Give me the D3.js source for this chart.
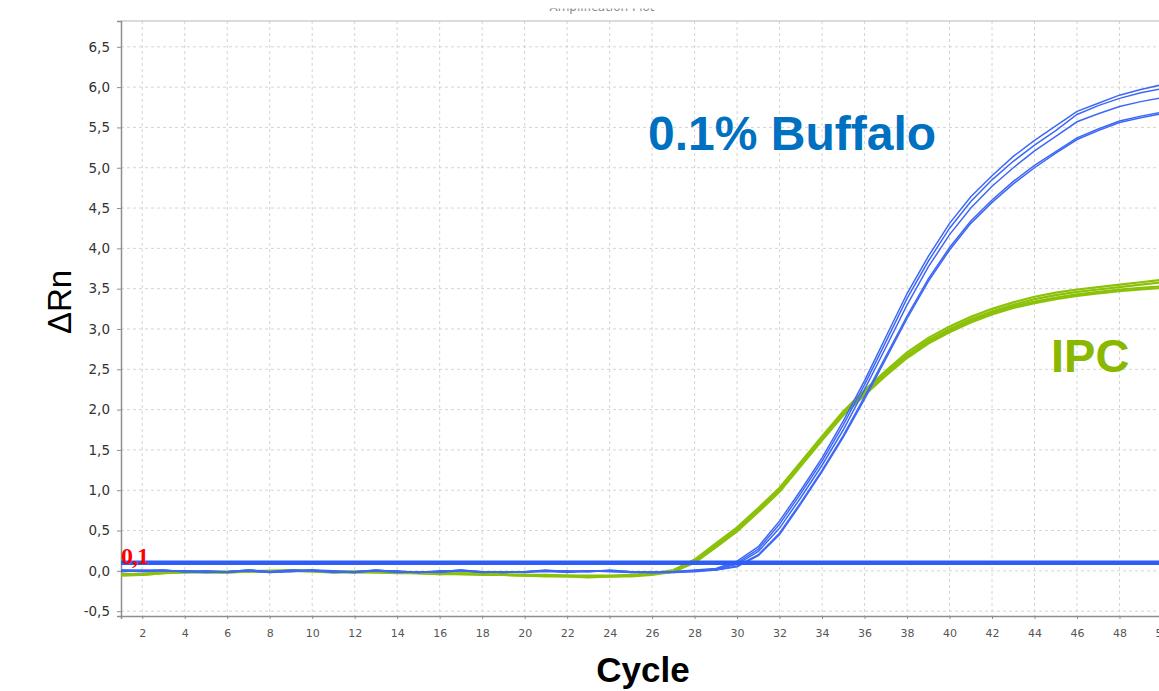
<!DOCTYPE html>
<html>
<head>
<meta charset="utf-8">
<script src="https://cdn.jsdelivr.net/npm/d3@7"></script>
<style>
  body { margin: 0; background: #fff; }
  #chart svg { display: block; }
</style>
</head>
<body>
<div id="chart"></div>
<script>
const cycles = [1,2,3,4,5,6,7,8,9,10,11,12,13,14,15,16,17,18,19,20,21,22,23,24,25,
  26,27,28,29,30,31,32,33,34,35,36,37,38,39,40,41,42,43,44,45,46,47,48,49,50];

const xTicks = [2,4,6,8,10,12,14,16,18,20,22,24,26,28,30,32,34,36,38,40,42,44,46,48,50];
const yTicks = [-0.5,0,0.5,1,1.5,2,2.5,3,3.5,4,4.5,5,5.5,6,6.5];

const threshold = 0.1;

// 0.1% Buffalo replicates
const buffalo1 = [0.01,0.00,0.01,-0.01,-0.01,-0.01,0.00,-0.02,0.00,0.01,-0.01,-0.02,0.01,-0.01,-0.02,-0.01,0.01,-0.02,-0.01,-0.01,
  0.00,-0.01,0.00,0.00,-0.02,-0.02,-0.01,0.01,0.03,
  0.12,0.30,0.62,1.00,1.40,1.86,2.36,2.90,3.44,3.90,4.31,4.64,4.90,5.14,5.34,5.52,5.70,5.80,5.90,5.97,6.03];
const buffalo2 = [0.00,0.01,0.00,-0.01,-0.02,-0.01,0.01,-0.01,0.00,0.00,-0.02,-0.01,0.00,-0.01,-0.01,-0.02,0.00,-0.01,-0.02,-0.01,
  0.01,-0.01,-0.01,0.00,-0.01,-0.02,-0.01,0.00,0.02,
  0.10,0.27,0.58,0.96,1.36,1.81,2.31,2.84,3.38,3.84,4.25,4.58,4.85,5.08,5.28,5.46,5.66,5.77,5.86,5.93,5.98];
const buffalo3 = [0.01,0.00,0.00,0.00,-0.01,-0.02,0.00,-0.01,0.01,0.00,-0.01,-0.02,0.00,0.00,-0.02,-0.01,0.01,-0.01,-0.01,-0.02,
  0.00,0.00,-0.01,0.01,-0.01,-0.02,-0.02,0.00,0.02,
  0.08,0.24,0.53,0.91,1.31,1.75,2.25,2.77,3.30,3.77,4.17,4.50,4.77,5.00,5.21,5.39,5.57,5.67,5.76,5.82,5.87];
const buffalo4 = [-0.01,0.00,0.01,-0.01,0.00,-0.01,0.00,-0.02,-0.01,0.01,0.00,-0.01,0.00,-0.02,-0.01,-0.01,0.00,-0.02,-0.01,-0.01,
  0.00,-0.02,0.00,-0.01,-0.02,-0.01,-0.01,0.00,0.01,
  0.06,0.20,0.47,0.85,1.25,1.68,2.16,2.66,3.16,3.62,4.01,4.34,4.60,4.83,5.03,5.20,5.37,5.48,5.58,5.64,5.69];
const buffalo5 = [0.00,-0.01,0.00,0.00,-0.01,-0.01,0.01,-0.01,0.00,0.00,-0.01,-0.01,0.01,-0.01,-0.02,0.00,0.00,-0.01,-0.02,-0.01,
  -0.01,-0.01,0.00,0.00,-0.01,-0.02,-0.02,-0.01,0.01,
  0.05,0.19,0.45,0.83,1.23,1.66,2.13,2.63,3.13,3.59,3.98,4.31,4.57,4.80,5.00,5.18,5.35,5.46,5.56,5.62,5.67];

// IPC replicates
const ipc1 = [-0.04,-0.04,-0.02,-0.01,-0.01,-0.02,0.00,0.00,0.00,0.00,-0.01,-0.01,-0.01,-0.02,-0.02,-0.03,-0.03,-0.03,-0.04,-0.05,
  -0.05,-0.06,-0.06,-0.06,-0.05,-0.03,0.01,
  0.14,0.34,0.54,0.78,1.03,1.35,1.67,1.98,2.24,2.48,2.71,2.89,3.03,3.15,3.25,3.33,3.40,3.45,3.49,3.52,3.55,3.58,3.61];
const ipc2 = [-0.05,-0.05,-0.03,-0.01,-0.02,-0.02,-0.01,0.00,0.01,0.00,-0.01,-0.02,-0.01,-0.02,-0.03,-0.03,-0.04,-0.04,-0.05,-0.05,
  -0.06,-0.06,-0.07,-0.07,-0.06,-0.04,0.00,
  0.12,0.32,0.52,0.76,1.01,1.33,1.65,1.96,2.22,2.46,2.68,2.86,3.00,3.12,3.22,3.30,3.37,3.42,3.46,3.49,3.52,3.55,3.58];
const ipc3 = [-0.05,-0.04,-0.02,-0.02,-0.01,-0.01,0.00,-0.01,0.00,0.00,-0.02,-0.01,-0.02,-0.02,-0.03,-0.04,-0.03,-0.04,-0.05,-0.06,
  -0.06,-0.07,-0.07,-0.07,-0.06,-0.04,-0.01,
  0.11,0.30,0.50,0.74,0.99,1.31,1.63,1.94,2.20,2.44,2.66,2.84,2.98,3.10,3.20,3.28,3.34,3.39,3.43,3.46,3.49,3.51,3.53];
const ipc4 = [-0.06,-0.05,-0.03,-0.02,-0.02,-0.02,-0.01,-0.01,0.00,-0.01,-0.02,-0.02,-0.02,-0.03,-0.03,-0.04,-0.04,-0.05,-0.05,-0.06,
  -0.07,-0.07,-0.08,-0.07,-0.07,-0.05,-0.01,
  0.10,0.29,0.49,0.73,0.98,1.30,1.62,1.93,2.18,2.42,2.64,2.82,2.96,3.08,3.18,3.26,3.32,3.37,3.41,3.44,3.47,3.49,3.51];

const buffaloSeries = [buffalo1, buffalo2, buffalo3, buffalo4, buffalo5];
const ipcSeries = [ipc1, ipc2, ipc3, ipc4];

const W = 1159, H = 691;
const margin = { top: 21, left: 121, bottom: 75 };
const plotRight = 1162;

const svg = d3.select("#chart")
  .append("svg")
  .attr("width", W)
  .attr("height", H);

const x = d3.scaleLinear().domain([1, 50]).range([margin.left, plotRight]);
const y = d3.scaleLinear().domain([-0.56, 6.82]).range([H - margin.bottom, margin.top]);

// title, mostly cut off at the top of the picture
svg.append("clipPath").attr("id", "titleClip")
  .append("rect").attr("x", 0).attr("y", 8.5).attr("width", W).attr("height", 10);
svg.append("text")
  .attr("clip-path", "url(#titleClip)")
  .attr("x", 602).attr("y", 11)
  .attr("text-anchor", "middle")
  .style("font-family", "DejaVu Sans, sans-serif")
  .style("font-size", "12px")
  .style("fill", "#888")
  .text("Amplification Plot");

// grid
const grid = svg.append("g");
grid.selectAll(".hg")
  .data(yTicks)
  .enter().append("line")
  .attr("x1", margin.left).attr("x2", plotRight)
  .attr("y1", d => y(d)).attr("y2", d => y(d))
  .attr("stroke", "#d4d4d4").attr("stroke-dasharray", "3,3");
grid.selectAll(".vg")
  .data(xTicks)
  .enter().append("line")
  .attr("x1", d => x(d)).attr("x2", d => x(d))
  .attr("y1", y.range()[1]).attr("y2", y.range()[0])
  .attr("stroke", "#d4d4d4").attr("stroke-dasharray", "3,3");

// top border
svg.append("line")
  .attr("x1", margin.left).attr("x2", plotRight)
  .attr("y1", margin.top).attr("y2", margin.top)
  .attr("stroke", "#cfcfcf").attr("stroke-width", 1.5);

// axes
const yAxis = svg.append("g")
  .attr("transform", `translate(${margin.left},0)`)
  .call(d3.axisLeft(y).tickValues(yTicks).tickSize(4).tickPadding(7)
    .tickFormat(d => d.toFixed(1).replace(".", ",")));
yAxis.selectAll("text")
  .style("font-family", "DejaVu Sans, sans-serif")
  .style("font-size", "13.5px")
  .style("fill", "#333");

const xAxis = svg.append("g")
  .attr("transform", `translate(0,${y.range()[0]})`)
  .call(d3.axisBottom(x).tickValues(xTicks).tickSize(3).tickPadding(10));
xAxis.selectAll("text")
  .style("font-family", "DejaVu Sans, sans-serif")
  .style("font-size", "11px")
  .style("fill", "#555");

svg.selectAll(".domain").attr("stroke", "#8e8e8e").attr("stroke-width", 1.5);
svg.selectAll(".tick line").attr("stroke", "#8e8e8e");

// curves
const line = d3.line()
  .x((d, i) => x(cycles[i]))
  .y(d => y(d));

const curves = svg.append("g");

curves.selectAll(".ipc")
  .data(ipcSeries)
  .enter().append("path")
  .attr("class", "ipc")
  .attr("d", line)
  .attr("fill", "none")
  .attr("stroke", "#8cc10a")
  .attr("stroke-width", 2.2);

curves.selectAll(".buffalo")
  .data(buffaloSeries)
  .enter().append("path")
  .attr("class", "buffalo")
  .attr("d", line)
  .attr("fill", "none")
  .attr("stroke", "#3d68f5")
  .attr("stroke-width", 1.5);

// threshold
svg.append("line")
  .attr("x1", margin.left).attr("x2", plotRight)
  .attr("y1", y(threshold)).attr("y2", y(threshold))
  .attr("stroke", "#2e5cf6").attr("stroke-width", 4.5);

svg.append("text")
  .attr("x", margin.left).attr("y", y(threshold) + 1)
  .style("font-family", "Liberation Serif, DejaVu Serif, serif")
  .style("font-weight", "bold")
  .style("font-size", "24px")
  .style("letter-spacing", "-1px")
  .style("fill", "#ff0000")
  .text("0,1");

// annotations
svg.append("text")
  .attr("x", 648).attr("y", 150)
  .style("font-family", "Liberation Sans, Arial, sans-serif")
  .style("font-weight", "bold")
  .style("font-size", "48px")
  .style("fill", "#0070c0")
  .text("0.1% Buffalo");

svg.append("text")
  .attr("x", 1051).attr("y", 372)
  .style("font-family", "Liberation Sans, Arial, sans-serif")
  .style("font-weight", "bold")
  .style("font-size", "47px")
  .style("fill", "#8ab800")
  .text("IPC");

// axis titles
svg.append("text")
  .attr("transform", "translate(71,302) rotate(-90)")
  .attr("text-anchor", "middle")
  .style("font-family", "Liberation Sans, Arial, sans-serif")
  .style("font-size", "33px")
  .style("fill", "#000")
  .text("ΔRn");

svg.append("text")
  .attr("x", 643).attr("y", 682)
  .attr("text-anchor", "middle")
  .style("font-family", "Liberation Sans, Arial, sans-serif")
  .style("font-weight", "bold")
  .style("font-size", "35px")
  .style("fill", "#000")
  .text("Cycle");
</script>
</body>
</html>
